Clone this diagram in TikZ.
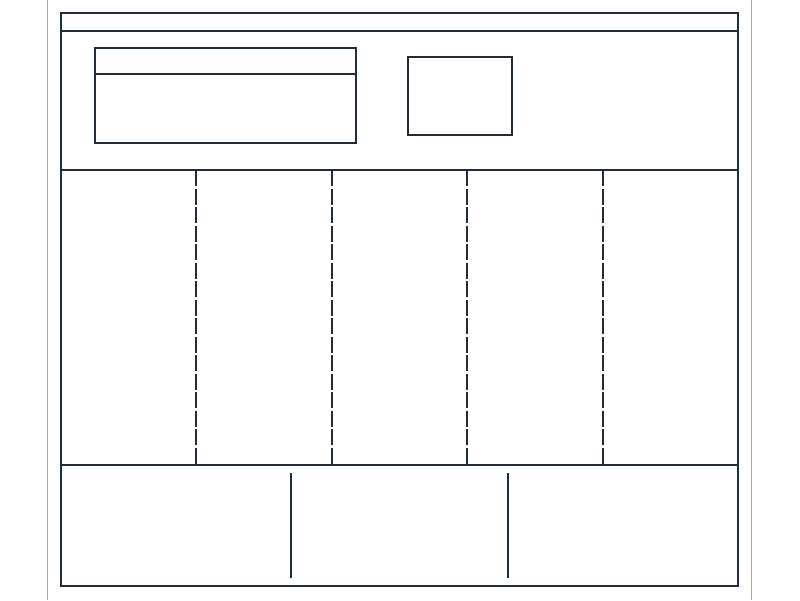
\documentclass[tikz,border=0pt]{standalone}
\begin{document}
\begin{tikzpicture}[x=1pt,y=-1pt,
  ln/.style={draw=lc,line width=1.4pt},
  dln/.style={draw=lc,line width=1.4pt,dash pattern=on 16pt off 2.5pt},
  gl/.style={draw=black!35,line width=1pt}]
\definecolor{lc}{HTML}{1F2D3A}
\useasboundingbox (0,0) rectangle (800,600);
\fill[white] (0,0) rectangle (800,600);
\draw[gl] (47,0) -- (47,600);
\draw[gl] (751,0) -- (751,600);
% outer frame
\draw[ln] (61,13) rectangle (738,586);
\draw[ln] (61,31) -- (738,31);
\draw[ln] (61,170) -- (738,170);
\draw[ln] (61,465) -- (738,465);
% header boxes
\draw[ln] (95,48) rectangle (356,143);
\draw[ln] (95,74) -- (356,74);
\draw[ln] (408,57) rectangle (512,135);
% dashed column dividers
\foreach \x in {196,332,467,603} \draw[dln] (\x,170) -- (\x,465);
% bottom dividers
\foreach \x in {291,508} \draw[ln] (\x,473) -- (\x,578);
\end{tikzpicture}
\end{document}
